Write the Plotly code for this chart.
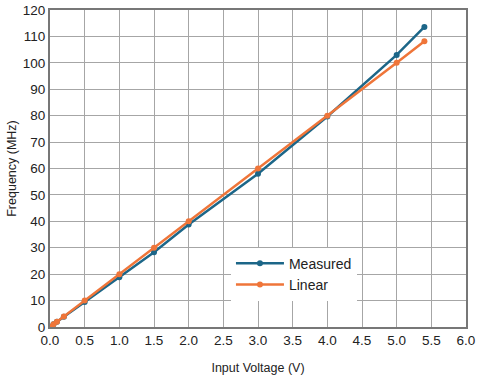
import plotly.graph_objects as go

voltage = [0.0, 0.05, 0.1, 0.2, 0.5, 1.0, 1.5, 2.0, 3.0, 4.0, 5.0, 5.4]
measured = [0.0, 1.0, 2.0, 3.9, 9.5, 18.8, 28.3, 38.8, 58.0, 79.7, 103.0, 113.6]
linear = [0.0, 1.0, 2.0, 4.0, 10.0, 20.0, 30.0, 40.0, 60.0, 80.0, 100.0, 108.2]

x_ticks = [0, 0.5, 1, 1.5, 2, 2.5, 3, 3.5, 4, 4.5, 5, 5.5, 6]
x_labels = ["0.0", "0.5", "1.0", "1.5", "2.0", "2.5", "3.0", "3.5", "4.0", "4.5", "5.0", "5.5", "6.0"]

FONT = "Liberation Sans, Arial, sans-serif"

fig = go.Figure()
fig.add_trace(go.Scatter(x=voltage, y=measured, name="Measured", mode="lines+markers",
                         line=dict(color="#1c6688", width=2.5), marker=dict(size=6, color="#1c6688")))
fig.add_trace(go.Scatter(x=voltage, y=linear, name="Linear", mode="lines+markers",
                         line=dict(color="#ef7539", width=2.5), marker=dict(size=6, color="#ef7539")))

fig.update_layout(
    width=478, height=381,
    margin=dict(l=50, r=12, t=10, b=54, autoexpand=False),
    paper_bgcolor="white", plot_bgcolor="white",
    font=dict(family=FONT, size=14, color="#222"),
    showlegend=True,
    legend=dict(x=0.435, y=0.25, xanchor="left", yanchor="top", bgcolor="white",
                font=dict(size=14), tracegroupgap=0, itemwidth=48),
    xaxis=dict(range=[0, 6], tickvals=x_ticks, ticktext=x_labels, showgrid=True,
               gridcolor="#a6a6a6", gridwidth=1, zeroline=False, showline=True,
               linecolor="#777", linewidth=2, mirror=True, ticks="", automargin=False,
               tickfont=dict(size=13.5),
               title=dict(text="Input Voltage (V)", font=dict(size=12.5), standoff=16)),
    yaxis=dict(range=[0, 120], dtick=10, showgrid=True, gridcolor="#a6a6a6", gridwidth=1,
               zeroline=False, showline=True, linecolor="#777", linewidth=2, mirror=True,
               ticks="", automargin=False, tickfont=dict(size=13.5),
               title=dict(text="Frequency (MHz)", font=dict(size=12.5), standoff=3)),
)

fig.write_html("out.html", config={"displayModeBar": False},
               post_script="document.body.style.margin='0';")
